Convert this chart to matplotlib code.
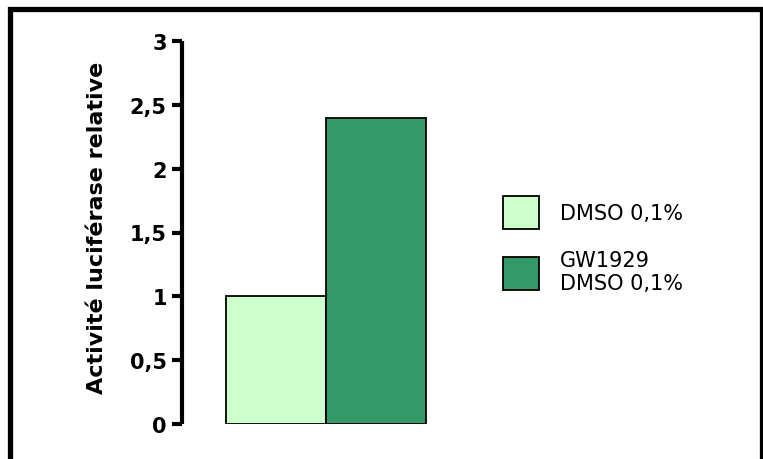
import matplotlib
matplotlib.use("Agg")
from matplotlib import pyplot as plt
from matplotlib.patches import Rectangle

# data
conditions = ["DMSO 0,1%", "GW1929\nDMSO 0,1%"]
values = [1.0, 2.4]
colors = ["#ccffcc", "#339966"]
yticks = [0, 0.5, 1, 1.5, 2, 2.5, 3]
yticklabels = ["0", "0,5", "1", "1,5", "2", "2,5", "3"]

W, H = 763, 460
fig = plt.figure(figsize=(W / 100, H / 100), dpi=100)
ax = fig.add_axes([182 / W, 35 / H, 288 / W, 383 / H])

bars = ax.bar(range(len(values)), values, width=1.0, color=colors,
              edgecolor="black", linewidth=1.3, label=conditions)
ax.set_xlim(-0.94, 1.94)
ax.set_ylim(0, 3)

for s in ["top", "right", "bottom"]:
    ax.spines[s].set_visible(False)
ax.spines["left"].set_linewidth(3)
ax.spines["left"].set_capstyle("butt")
ax.set_xticks([])
ax.set_yticks(yticks)
ax.set_yticklabels(yticklabels, fontweight="bold", fontsize=15)
ax.tick_params(axis="y", length=7, width=3, pad=4)
ax.set_ylabel("Activité luciférase relative", fontweight="bold", fontsize=16, labelpad=16)
ax.yaxis.label.set_y(0.514)

ax.legend(handles=list(bars), labels=conditions, loc="upper left",
          bbox_to_anchor=(493 / W, 1 - 187 / H), bbox_transform=fig.transFigure,
          frameon=False, fontsize=15, handlelength=1.73, handleheight=2.06,
          handletextpad=1.0, labelspacing=1.0, borderpad=0)

# frame around the whole figure
fig.patches.append(Rectangle((9.5 / W, -0.1), 752.5 / W, 1.1 - 9.5 / H,
                             transform=fig.transFigure, fill=False,
                             edgecolor="black", linewidth=3.8))

fig.savefig("out.png", dpi=100)
